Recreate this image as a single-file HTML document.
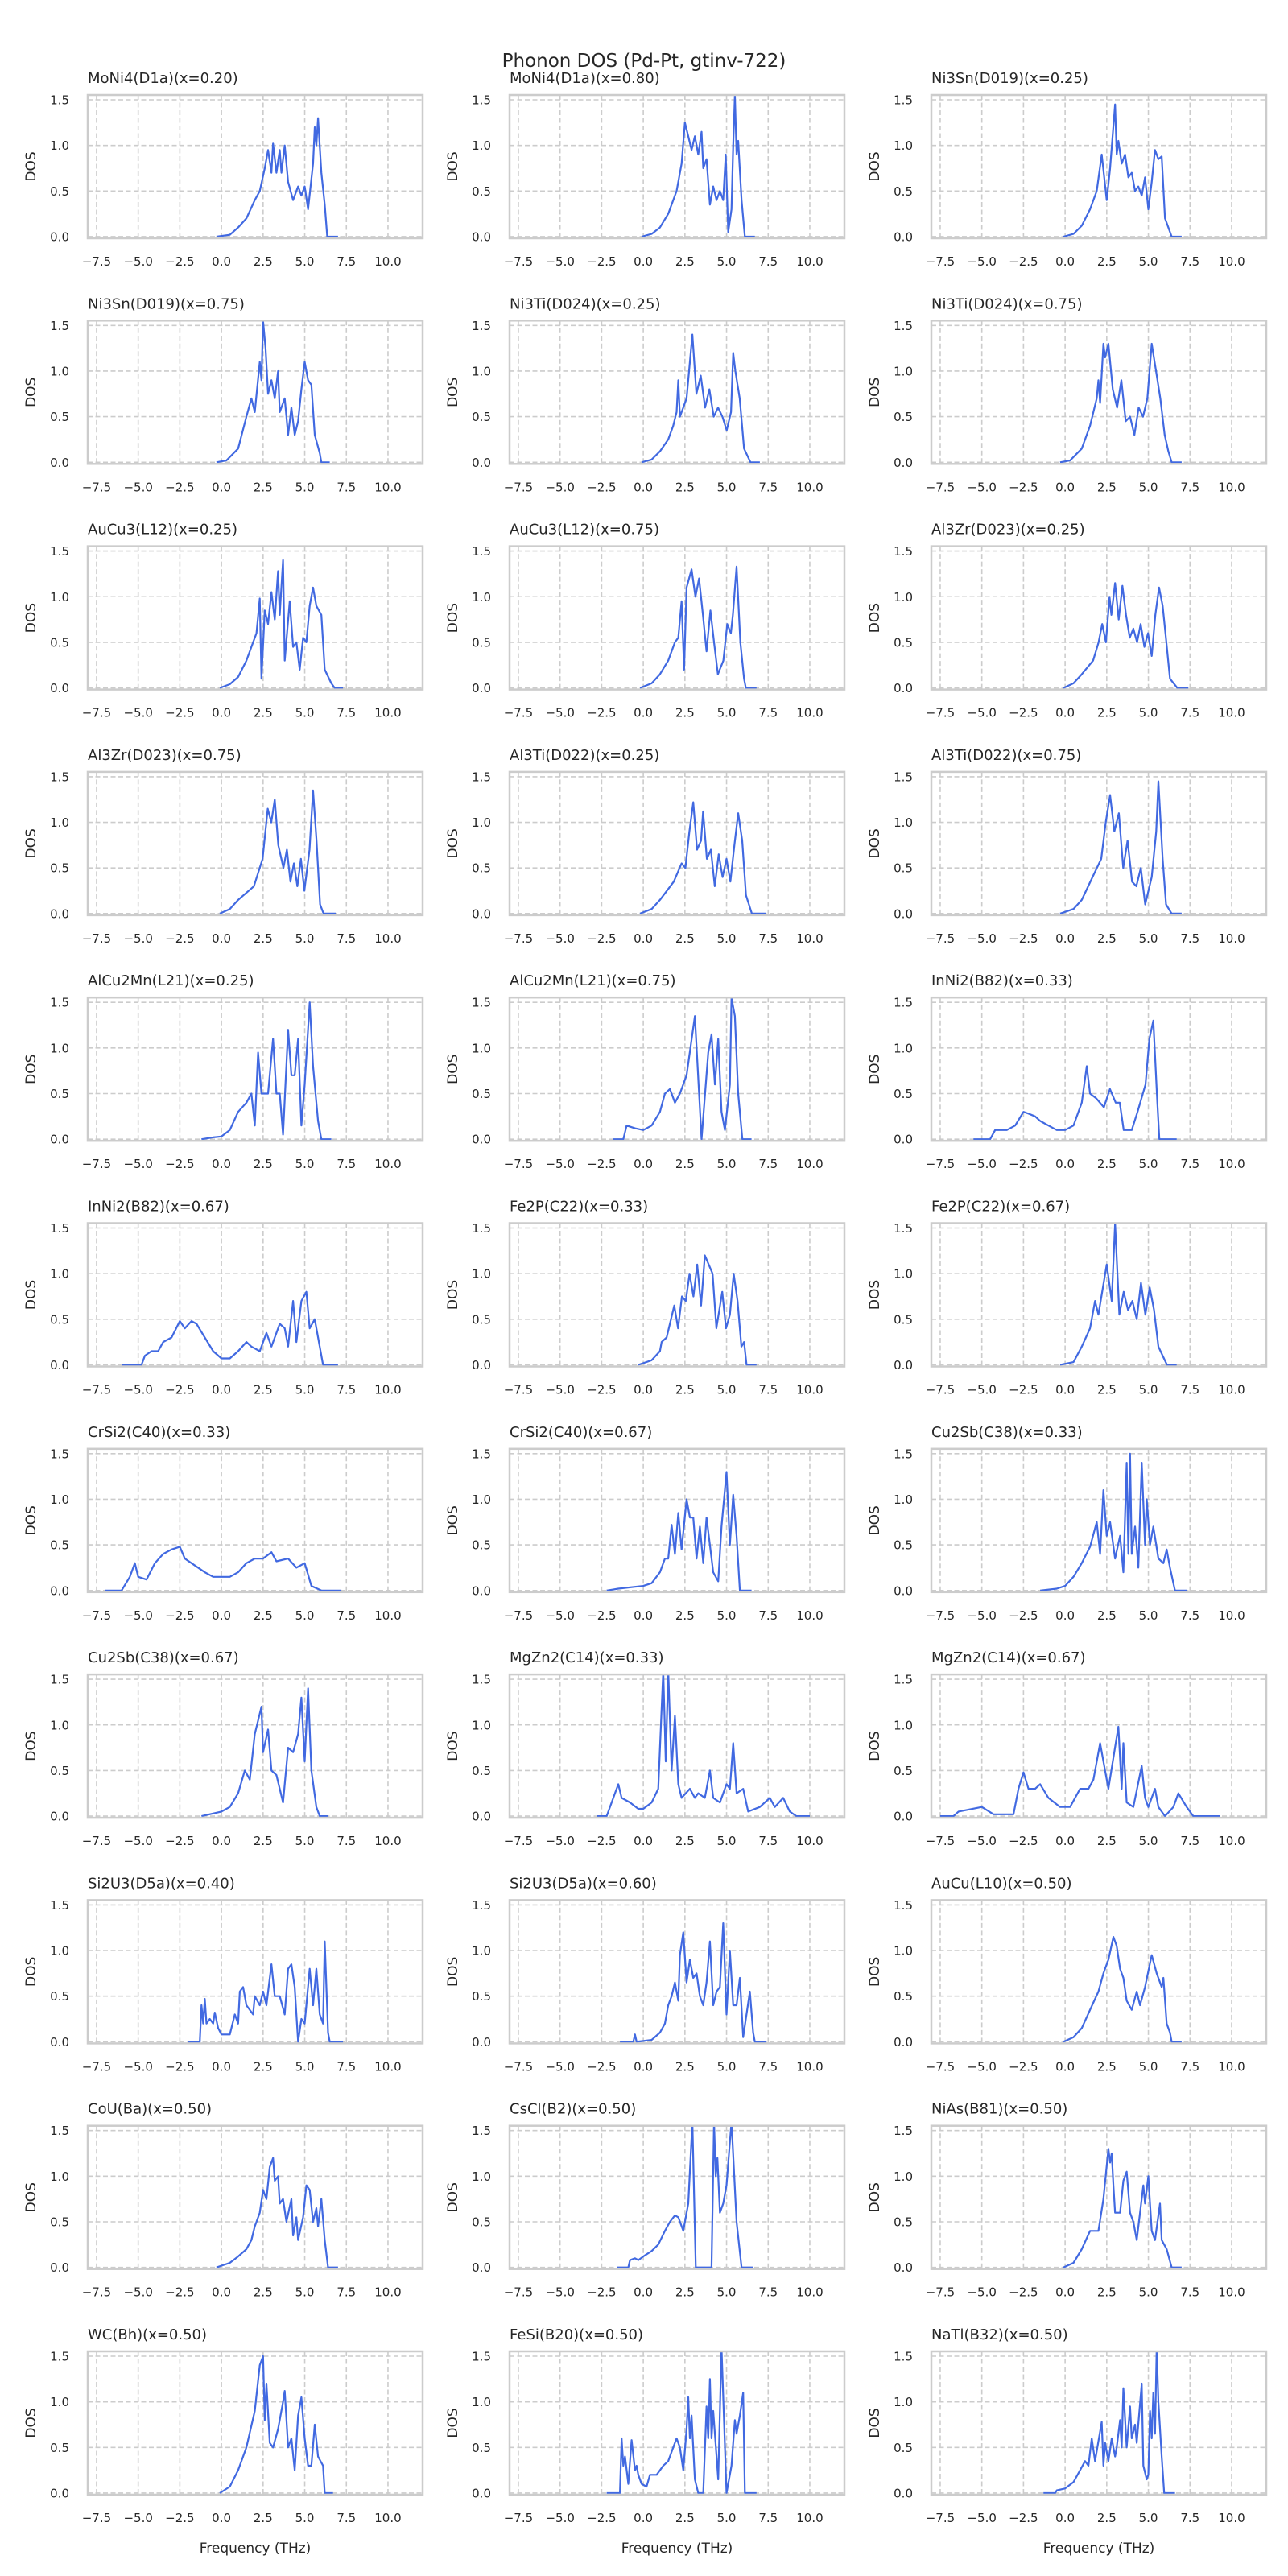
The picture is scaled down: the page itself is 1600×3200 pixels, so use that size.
<!DOCTYPE html>
<html><head><meta charset="utf-8"><title>Phonon DOS (Pd-Pt, gtinv-722)</title>
<style>
html,body{margin:0;padding:0;background:#fff;}
svg{display:block;font-family:"DejaVu Sans","Liberation Sans",sans-serif;}
</style></head>
<body>
<svg id="fig" width="1600" height="3200" viewBox="0 0 1600 3200" xmlns="http://www.w3.org/2000/svg">
<rect x="0" y="0" width="1600" height="3200" fill="#fff"/>
<text x="800" y="83" text-anchor="middle" font-size="23" fill="#262626">Phonon DOS (Pd-Pt, gtinv-722)</text>
</svg>
<script>
const titles = ["MoNi4(D1a)(x=0.20)","MoNi4(D1a)(x=0.80)","Ni3Sn(D019)(x=0.25)","Ni3Sn(D019)(x=0.75)","Ni3Ti(D024)(x=0.25)","Ni3Ti(D024)(x=0.75)","AuCu3(L12)(x=0.25)","AuCu3(L12)(x=0.75)","Al3Zr(D023)(x=0.25)","Al3Zr(D023)(x=0.75)","Al3Ti(D022)(x=0.25)","Al3Ti(D022)(x=0.75)","AlCu2Mn(L21)(x=0.25)","AlCu2Mn(L21)(x=0.75)","InNi2(B82)(x=0.33)","InNi2(B82)(x=0.67)","Fe2P(C22)(x=0.33)","Fe2P(C22)(x=0.67)","CrSi2(C40)(x=0.33)","CrSi2(C40)(x=0.67)","Cu2Sb(C38)(x=0.33)","Cu2Sb(C38)(x=0.67)","MgZn2(C14)(x=0.33)","MgZn2(C14)(x=0.67)","Si2U3(D5a)(x=0.40)","Si2U3(D5a)(x=0.60)","AuCu(L10)(x=0.50)","CoU(Ba)(x=0.50)","CsCl(B2)(x=0.50)","NiAs(B81)(x=0.50)","WC(Bh)(x=0.50)","FeSi(B20)(x=0.50)","NaTl(B32)(x=0.50)"];
const xTicks = [-7.5,-5,-2.5,0,2.5,5,7.5,10];
const xTickLabels = ["\u22127.5","\u22125.0","\u22122.5","0.0","2.5","5.0","7.5","10.0"];
const yTicks = [0,0.5,1.0,1.5];
const yTickLabels = ["0.0","0.5","1.0","1.5"];

const freq0=[-0.3,0.5,1,1.5,2,2.3,2.6,2.8,3.0,3.1,3.3,3.5,3.6,3.8,4.0,4.3,4.6,4.8,5.0,5.2,5.5,5.6,5.7,5.8,6.0,6.2,6.35,7];
const dos0=[0,0.02,0.1,0.2,0.4,0.5,0.75,0.95,0.7,1.02,0.7,0.95,0.7,1.0,0.6,0.4,0.55,0.45,0.55,0.3,0.8,1.2,1.0,1.3,0.7,0.35,0,0];
const freq1=[-0.1,0.5,1,1.5,2,2.3,2.5,2.7,2.9,3.1,3.3,3.5,3.6,3.8,4.0,4.2,4.4,4.6,4.8,4.95,5.1,5.3,5.4,5.5,5.6,5.7,5.9,6.1,6.7];
const dos1=[0,0.03,0.1,0.25,0.5,0.8,1.25,1.1,0.95,1.1,0.9,1.15,0.75,0.85,0.35,0.55,0.4,0.5,0.4,0.9,0.05,0.3,1.0,1.55,0.9,1.05,0.4,0,0];
const freq2=[-0.1,0.5,1,1.5,1.9,2.2,2.5,2.7,3.0,3.1,3.2,3.4,3.6,3.8,4.0,4.2,4.4,4.6,4.8,5.0,5.2,5.4,5.6,5.8,6.0,6.2,6.4,7.0];
const dos2=[0,0.03,0.12,0.3,0.5,0.9,0.4,0.75,1.45,0.9,1.05,0.8,0.9,0.65,0.7,0.5,0.55,0.45,0.65,0.3,0.6,0.95,0.85,0.88,0.2,0.1,0,0];
const freq3=[-0.3,0.3,1,1.5,1.8,2.0,2.3,2.4,2.5,2.65,2.8,3.0,3.2,3.4,3.5,3.8,4.0,4.2,4.4,4.6,4.8,5.0,5.2,5.4,5.6,5.9,6.0,6.5];
const dos3=[0,0.02,0.15,0.5,0.7,0.55,1.1,0.9,1.55,1.25,0.75,0.9,0.7,1.0,0.55,0.7,0.3,0.6,0.3,0.45,0.8,1.1,0.9,0.85,0.3,0.1,0,0];
const freq4=[-0.1,0.5,1,1.5,1.8,2.0,2.1,2.2,2.4,2.6,2.8,2.95,3.19,3.45,3.71,3.97,4.23,4.49,4.75,5.01,5.27,5.4,5.53,5.79,6.05,6.44,7.0];
const dos4=[0,0.03,0.12,0.25,0.4,0.55,0.9,0.5,0.6,0.7,1.1,1.4,0.75,0.95,0.6,0.8,0.5,0.6,0.5,0.35,0.55,1.2,1.0,0.7,0.15,0,0];
const freq5=[-0.3,0.3,1.0,1.5,1.9,2.0,2.1,2.3,2.4,2.6,2.86,3.12,3.38,3.64,3.9,4.16,4.42,4.68,4.94,5.2,5.46,5.72,5.98,6.2,6.4,7.0];
const dos5=[0,0.02,0.15,0.4,0.7,0.9,0.65,1.3,1.15,1.3,0.8,0.6,0.9,0.45,0.5,0.3,0.6,0.5,0.7,1.3,1.0,0.7,0.3,0.12,0,0];
const freq6=[-0.1,0.5,1,1.5,1.9,2.1,2.3,2.4,2.6,2.8,3.0,3.2,3.4,3.5,3.7,3.8,4.1,4.3,4.5,4.7,4.9,5.1,5.3,5.5,5.7,6.0,6.2,6.6,6.8,7.3];
const dos6=[0,0.04,0.12,0.3,0.5,0.6,0.98,0.1,0.85,0.7,1.05,0.75,1.28,0.8,1.4,0.3,0.95,0.45,0.5,0.2,0.55,0.5,0.9,1.1,0.9,0.8,0.2,0.05,0,0];
const freq7=[-0.2,0.5,1,1.5,1.9,2.1,2.3,2.45,2.6,2.9,3.13,3.35,3.58,3.8,4.03,4.25,4.48,4.81,5.04,5.26,5.38,5.6,5.83,6.05,6.16,6.8];
const dos7=[0,0.05,0.15,0.3,0.5,0.55,0.95,0.2,1.1,1.3,1.0,1.2,0.8,0.4,0.85,0.5,0.15,0.3,0.7,0.6,0.8,1.33,0.5,0.1,0,0];
const freq8=[-0.1,0.5,1.0,1.68,2.01,2.23,2.45,2.67,2.78,3.0,3.22,3.44,3.66,3.88,4.1,4.32,4.54,4.76,4.98,5.2,5.42,5.64,5.86,6.08,6.3,6.74,7.4];
const dos8=[0,0.05,0.15,0.3,0.5,0.7,0.5,1.0,0.8,1.15,0.75,1.12,0.8,0.55,0.65,0.5,0.7,0.45,0.6,0.35,0.8,1.1,0.9,0.5,0.1,0,0];
const freq9=[-0.1,0.5,1,1.95,2.47,2.78,2.99,3.2,3.41,3.72,3.93,4.14,4.35,4.56,4.77,4.98,5.29,5.5,5.71,5.92,6.13,6.86];
const dos9=[0,0.05,0.15,0.3,0.6,1.15,1.0,1.25,0.75,0.5,0.7,0.35,0.55,0.3,0.6,0.25,0.7,1.35,0.8,0.1,0,0];
const freq10=[-0.2,0.5,1,1.83,2.3,2.53,2.77,3.0,3.23,3.47,3.59,3.82,4.06,4.29,4.53,4.76,5.0,5.23,5.47,5.7,5.94,6.17,6.52,7.35];
const dos10=[0,0.05,0.15,0.35,0.55,0.5,0.9,1.22,0.7,0.8,1.12,0.6,0.7,0.3,0.65,0.4,0.6,0.35,0.75,1.1,0.8,0.2,0,0];
const freq11=[-0.3,0.5,1,1.65,2.17,2.44,2.7,2.96,3.23,3.49,3.75,4.02,4.28,4.55,4.81,5.2,5.47,5.6,5.86,6.06,6.4,7.0];
const dos11=[0,0.05,0.15,0.4,0.6,1.0,1.3,0.9,1.1,0.5,0.8,0.35,0.3,0.5,0.1,0.4,0.9,1.45,0.6,0.1,0,0];
const freq12=[-1.2,-0.5,0,0.5,1,1.5,1.8,2.0,2.2,2.4,2.6,2.8,3.1,3.3,3.5,3.7,4.0,4.2,4.4,4.6,4.8,5.0,5.3,5.5,5.8,6.0,6.6];
const dos12=[0,0.02,0.03,0.1,0.3,0.4,0.5,0.15,0.95,0.5,0.5,0.5,1.1,0.5,0.5,0.05,1.2,0.7,0.7,1.1,0.15,0.6,1.5,0.8,0.2,0,0];
const freq13=[-1.8,-1.2,-1.0,-0.5,0,0.5,1,1.3,1.6,1.9,2.2,2.6,3.1,3.5,3.9,4.1,4.3,4.5,4.7,4.9,5.2,5.3,5.5,5.7,5.95,6.5];
const dos13=[0,0,0.15,0.12,0.1,0.15,0.3,0.5,0.55,0.4,0.5,0.7,1.35,0,0.95,1.15,0.6,1.1,0.3,0.1,0.6,1.55,1.35,0.5,0,0];
const freq14=[-5.5,-4.5,-4.2,-3.5,-3,-2.5,-2.2,-1.8,-1.5,-1.0,-0.5,0,0.5,1.0,1.3,1.5,1.86,2.33,2.69,3.04,3.28,3.52,4.0,4.35,4.83,5.06,5.3,5.54,5.66,6.7];
const dos14=[0,0,0.1,0.1,0.15,0.3,0.28,0.25,0.2,0.15,0.1,0.1,0.15,0.4,0.8,0.5,0.45,0.35,0.55,0.4,0.4,0.1,0.1,0.3,0.6,1.1,1.3,0.4,0,0];
const freq15=[-6,-4.8,-4.6,-4.2,-3.8,-3.5,-3.0,-2.5,-2.2,-1.8,-1.5,-1.0,-0.5,0,0.5,1.0,1.5,1.8,2.3,2.7,3.0,3.5,3.8,4.0,4.3,4.5,4.8,5.1,5.3,5.6,6.1,7];
const dos15=[0,0,0.1,0.15,0.15,0.25,0.3,0.48,0.4,0.48,0.45,0.3,0.15,0.07,0.07,0.15,0.25,0.2,0.15,0.35,0.2,0.45,0.4,0.2,0.7,0.25,0.7,0.8,0.4,0.5,0,0];
const freq16=[-0.3,0.5,1,1.1,1.4,1.86,2.09,2.32,2.55,2.78,3.01,3.24,3.47,3.7,4.16,4.39,4.74,4.97,5.2,5.43,5.66,5.89,6.05,6.2,6.8];
const dos16=[0,0.05,0.15,0.25,0.3,0.65,0.4,0.75,0.7,1.0,0.75,1.1,0.65,1.2,1.0,0.4,0.8,0.4,0.55,1.0,0.7,0.2,0.25,0,0];
const freq17=[-0.3,0.5,1.0,1.5,1.8,2.0,2.5,2.8,3.0,3.26,3.52,3.78,4.04,4.3,4.56,4.82,5.08,5.34,5.6,5.86,6.12,6.7];
const dos17=[0,0.03,0.2,0.4,0.7,0.55,1.1,0.7,1.55,0.55,0.8,0.6,0.7,0.5,0.9,0.55,0.85,0.6,0.2,0.1,0,0];
const freq18=[-7,-6,-5.5,-5.2,-5.0,-4.5,-4.0,-3.5,-3,-2.5,-2.2,-1.8,-1.0,-0.5,0.5,1.0,1.5,2,2.5,3,3.3,4,4.5,5,5.4,6,7.2];
const dos18=[0,0,0.15,0.3,0.15,0.12,0.3,0.4,0.45,0.48,0.35,0.3,0.2,0.15,0.15,0.2,0.3,0.35,0.35,0.42,0.32,0.35,0.25,0.3,0.05,0,0];
const freq19=[-2.2,-1.5,-0.5,0,0.5,1.0,1.3,1.5,1.7,1.9,2.1,2.3,2.6,2.8,3.0,3.2,3.4,3.6,3.8,4.2,4.5,4.7,5.0,5.2,5.4,5.6,5.8,6.5];
const dos19=[0,0.02,0.04,0.05,0.08,0.2,0.35,0.35,0.72,0.4,0.85,0.45,1.0,0.8,0.8,0.35,0.7,0.3,0.8,0.2,0.1,0.7,1.3,0.5,1.05,0.6,0,0];
const freq20=[-1.5,-0.5,0,0.5,1.0,1.5,1.9,2.1,2.3,2.5,2.7,3.0,3.3,3.5,3.7,3.8,3.9,4.0,4.2,4.4,4.6,4.8,4.9,5.1,5.3,5.6,5.9,6.1,6.3,6.6,7.3];
const dos20=[0,0.02,0.05,0.15,0.3,0.48,0.75,0.4,1.1,0.6,0.75,0.35,0.6,0.2,1.4,0.4,1.5,0.4,0.7,0.25,1.4,0.5,1.0,0.5,0.7,0.35,0.3,0.45,0.25,0,0];
const freq21=[-1.2,0,0.5,1,1.4,1.7,2.0,2.4,2.5,2.8,3.0,3.3,3.7,4.0,4.3,4.6,4.8,5.0,5.2,5.4,5.7,5.9,6.4];
const dos21=[0,0.05,0.1,0.25,0.5,0.4,0.9,1.2,0.7,0.95,0.5,0.45,0.15,0.75,0.7,0.9,1.3,0.6,1.4,0.5,0.1,0,0];
const freq22=[-2.8,-2.2,-1.8,-1.5,-1.3,-0.8,-0.3,0,0.5,0.9,1.2,1.35,1.5,1.7,1.9,2.1,2.3,2.8,3.1,3.3,3.7,4.0,4.2,4.6,5.0,5.2,5.4,5.6,6.0,6.3,7.0,7.6,7.9,8.4,8.8,9.2,10.0];
const dos22=[0,0,0.2,0.35,0.2,0.15,0.08,0.08,0.15,0.3,1.6,0.6,1.6,0.5,1.1,0.35,0.2,0.3,0.2,0.25,0.2,0.5,0.2,0.15,0.35,0.3,0.8,0.25,0.3,0.05,0.1,0.2,0.1,0.2,0.05,0,0];
const freq23=[-7.5,-6.7,-6.4,-5.0,-4.3,-3.1,-2.8,-2.5,-2.2,-1.8,-1.5,-1.0,-0.3,0.3,0.9,1.4,1.7,2.1,2.3,2.6,3.2,3.4,3.5,3.7,4.1,4.6,4.8,5.0,5.4,5.6,6.0,6.5,6.8,7.3,7.7,9.3];
const dos23=[0,0,0.05,0.1,0.02,0.02,0.3,0.48,0.3,0.3,0.35,0.2,0.1,0.1,0.3,0.3,0.4,0.8,0.6,0.3,0.98,0.3,0.8,0.15,0.1,0.55,0.2,0.1,0.3,0.1,0,0.1,0.25,0.1,0,0];
const freq24=[-2.0,-1.3,-1.2,-1.1,-1.0,-0.9,-0.7,-0.5,-0.4,-0.2,0,0.5,0.8,1.0,1.1,1.3,1.5,1.9,2.0,2.3,2.5,2.7,3.0,3.2,3.5,3.8,4.0,4.2,4.4,4.6,4.8,5.0,5.3,5.5,5.7,5.9,6.1,6.2,6.4,6.5,7.3];
const dos24=[0,0,0.4,0.2,0.47,0.2,0.25,0.2,0.32,0.15,0.08,0.08,0.3,0.2,0.55,0.6,0.4,0.3,0.5,0.4,0.55,0.4,0.85,0.5,0.5,0.3,0.8,0.85,0.6,0,0.25,0.2,0.8,0.4,0.8,0.3,0.2,1.1,0.1,0,0];
const freq25=[-1.4,-0.6,-0.5,-0.4,0.5,1.0,1.3,1.5,1.7,1.9,2.1,2.2,2.4,2.6,2.8,3.0,3.2,3.4,3.6,3.8,4.0,4.2,4.4,4.6,4.8,5.0,5.2,5.4,5.6,5.8,6.0,6.4,6.6,6.7,7.4];
const dos25=[0,0,0.08,0,0.02,0.1,0.2,0.4,0.5,0.65,0.45,0.95,1.2,0.65,0.9,0.7,0.75,0.5,0.4,0.65,1.1,0.4,0.55,0.6,1.3,0.3,1.0,0.4,0.4,0.7,0.05,0.55,0.1,0,0];
const freq26=[-0.1,0.5,1.0,1.5,2.0,2.3,2.6,2.9,3.1,3.3,3.5,3.7,4.0,4.3,4.5,4.8,5.2,5.5,5.8,5.9,6.1,6.3,6.4,7.0];
const dos26=[0,0.05,0.15,0.35,0.55,0.75,0.9,1.15,1.05,0.8,0.7,0.45,0.35,0.55,0.4,0.6,0.95,0.75,0.6,0.7,0.2,0.1,0,0];
const freq27=[-0.3,0.5,1.0,1.5,1.8,2.0,2.3,2.5,2.7,2.9,3.1,3.2,3.4,3.5,3.7,3.9,4.2,4.3,4.5,4.6,4.9,5.1,5.3,5.5,5.7,5.8,6.0,6.2,6.4,7.0];
const dos27=[0,0.05,0.12,0.2,0.3,0.45,0.6,0.85,0.75,1.1,1.2,0.95,1.0,0.7,0.75,0.5,0.75,0.35,0.55,0.3,0.55,0.9,0.85,0.5,0.65,0.45,0.75,0.3,0,0];
const freq28=[-1.6,-0.9,-0.8,-0.5,-0.3,0,0.5,0.9,1.3,1.6,1.9,2.1,2.4,2.7,2.95,3.15,4.1,4.25,4.35,4.45,4.6,4.8,5.0,5.3,5.6,5.9,6.6];
const dos28=[0,0,0.08,0.1,0.08,0.12,0.18,0.25,0.4,0.5,0.57,0.55,0.4,0.7,1.6,0,0,1.6,1.0,1.2,0.6,0.7,0.9,1.6,0.5,0,0];
const freq29=[-0.1,0.5,1.0,1.5,2.0,2.3,2.6,2.7,2.8,2.9,3.0,3.3,3.5,3.7,3.9,4.1,4.3,4.7,4.8,5.0,5.2,5.4,5.7,5.8,6.1,6.4,7.0];
const dos29=[0,0.05,0.2,0.4,0.4,0.75,1.3,1.15,1.25,0.9,0.6,0.6,0.95,1.05,0.6,0.5,0.3,0.9,0.7,1.0,0.4,0.3,0.7,0.3,0.2,0,0];
const freq30=[-0.1,0.5,1.0,1.5,2.0,2.3,2.5,2.6,2.7,2.9,3.1,3.4,3.7,3.8,4.0,4.2,4.4,4.6,4.8,5.0,5.2,5.4,5.6,5.8,6.1,6.2,6.7];
const dos30=[0,0.07,0.25,0.5,0.9,1.4,1.5,0.8,1.2,0.55,0.5,0.7,1.0,1.12,0.5,0.6,0.25,0.85,1.05,0.6,0.3,0.3,0.75,0.4,0.3,0,0];
const freq31=[-2.2,-1.4,-1.3,-1.2,-1.1,-0.9,-0.7,-0.5,-0.4,-0.3,-0.1,0.2,0.4,0.8,1.2,1.5,1.8,2.0,2.2,2.4,2.6,2.7,2.8,2.9,3.1,3.3,3.6,3.8,3.9,4.0,4.1,4.2,4.5,4.7,5.0,5.3,5.5,5.6,5.8,6.0,6.1,6.8];
const dos31=[0,0,0.6,0.3,0.4,0.1,0.58,0.25,0.3,0.2,0.1,0.07,0.2,0.2,0.3,0.35,0.5,0.6,0.5,0.25,0.7,1.05,0.6,0.85,0.15,0,0,0.95,0.6,1.25,0.6,0.9,0.15,1.6,0,0.3,0.8,0.65,0.85,1.1,0,0];
const freq32=[-1.3,-0.6,-0.5,0,0.5,0.9,1.2,1.4,1.6,1.8,2.2,2.3,2.4,2.6,2.8,3.0,3.1,3.3,3.4,3.5,3.7,3.9,4.0,4.2,4.3,4.6,4.7,4.9,5.0,5.1,5.2,5.3,5.4,5.5,5.6,5.8,5.95,6.6];
const dos32=[0,0,0.03,0.05,0.12,0.25,0.35,0.3,0.6,0.35,0.78,0.3,0.55,0.35,0.6,0.4,0.5,0.8,0.5,1.15,0.5,0.95,0.6,0.75,0.55,1.2,0.3,0.15,0.2,0.9,0.6,1.1,0.65,1.6,1.0,0.4,0,0];

const freqs=[freq0,freq1,freq2,freq3,freq4,freq5,freq6,freq7,freq8,freq9,freq10,freq11,freq12,freq13,freq14,freq15,freq16,freq17,freq18,freq19,freq20,freq21,freq22,freq23,freq24,freq25,freq26,freq27,freq28,freq29,freq30,freq31,freq32];
const doss=[dos0,dos1,dos2,dos3,dos4,dos5,dos6,dos7,dos8,dos9,dos10,dos11,dos12,dos13,dos14,dos15,dos16,dos17,dos18,dos19,dos20,dos21,dos22,dos23,dos24,dos25,dos26,dos27,dos28,dos29,dos30,dos31,dos32];

const NS="http://www.w3.org/2000/svg";
const svg=document.getElementById('fig');
const AXW=416, AXH=178, XMIN=-8.03, XMAX=12.08, YMIN=-0.018, YMAX=1.553;
function mk(tag, attrs){const e=document.createElementNS(NS,tag);for(const k in attrs)e.setAttribute(k,attrs[k]);return e;}

const defs=mk('defs',{});svg.appendChild(defs);

for(let i=0;i<titles.length;i++){
  const row=Math.floor(i/3), col=i%3;
  const L=109+col*524, T=118+row*280.3;
  const sx=v=>L+(v-XMIN)/(XMAX-XMIN)*AXW;
  const sy=v=>T+AXH-(v-YMIN)/(YMAX-YMIN)*AXH;
  const g=mk('g',{});
  
  
  svg.appendChild(g);
  const cp=mk('clipPath',{id:'cp'+i});cp.appendChild(mk('rect',{x:L,y:T,width:AXW,height:AXH}));defs.appendChild(cp);
  xTicks.forEach((t,k)=>{
    const ln=mk('line',{x1:sx(t),x2:sx(t),y1:T,y2:T+AXH,stroke:'#cccccc','stroke-width':1.6,'stroke-dasharray':'6,3.5'});
    
    
    g.appendChild(ln);
    const tx=mk('text',{x:sx(t),y:T+AXH+34,'text-anchor':'middle','font-size':15,fill:'#262626'});
    tx.textContent=xTickLabels[k];
    
    
    g.appendChild(tx);
  });
  yTicks.forEach((t,k)=>{
    const ln=mk('line',{x1:L,x2:L+AXW,y1:sy(t),y2:sy(t),stroke:'#cccccc','stroke-width':1.6,'stroke-dasharray':'6,3.5'});
    
    
    g.appendChild(ln);
    const tx=mk('text',{x:L-23,y:sy(t)+5.5,'text-anchor':'end','font-size':15,fill:'#262626'});
    tx.textContent=yTickLabels[k];
    
    
    g.appendChild(tx);
  });
  const f=freqs[i], d=doss[i];
  let p='';
  for(let j=0;j<f.length;j++){p+=(j?'L':'M')+sx(f[j]).toFixed(1)+','+sy(d[j]).toFixed(1);}
  const path=mk('path',{d:p,fill:'none',stroke:'#4169e1','stroke-width':2.2,'stroke-linejoin':'round','clip-path':'url(#cp'+i+')'});
  
  
  g.appendChild(path);
  const fr=mk('rect',{x:L,y:T,width:AXW,height:AXH,fill:'none',stroke:'#cccccc','stroke-width':2.5});
  
  
  g.appendChild(fr);
  const ti=mk('text',{x:L,y:T-15,'font-size':18,fill:'#262626'});
  ti.textContent=titles[i];
  
  
  g.appendChild(ti);
  const yl=mk('text',{x:0,y:0,'text-anchor':'middle','font-size':17,fill:'#262626',transform:'translate('+(L-65)+','+(T+AXH/2)+') rotate(-90)'});
  yl.textContent='DOS';
  
  
  g.appendChild(yl);
  if(row===10){
    const xl=mk('text',{x:L+AXW/2,y:T+AXH+72,'text-anchor':'middle','font-size':17,fill:'#262626'});
    xl.textContent='Frequency (THz)';
    
    
    g.appendChild(xl);
  }
}
</script>
</body></html>
